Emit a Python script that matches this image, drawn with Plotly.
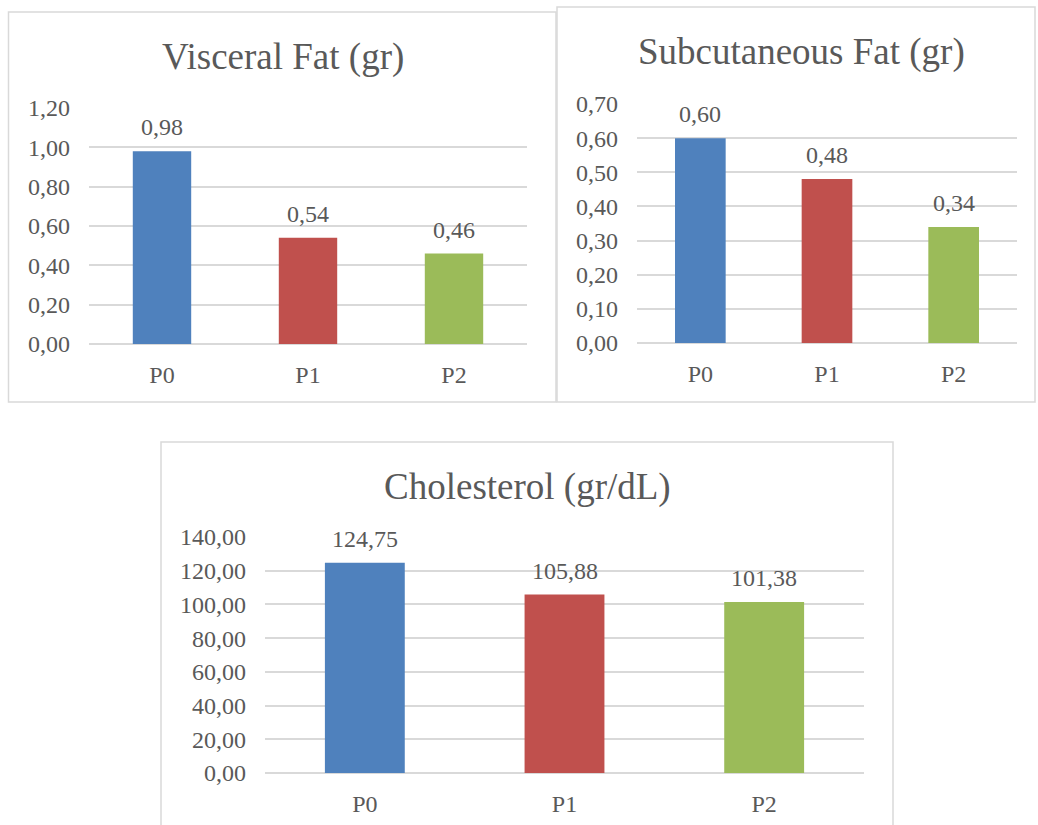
import plotly.graph_objects as go

W, H = 1038, 825

categories = ["P0", "P1", "P2"]
visceral = [0.98, 0.54, 0.46]
subcutaneous = [0.60, 0.48, 0.34]
cholesterol = [124.75, 105.88, 101.38]
colors = ["#4F81BD", "#C0504D", "#9BBB59"]

titles = ["Visceral Fat (gr)", "Subcutaneous Fat (gr)", "Cholesterol (gr/dL)"]
series = [visceral, subcutaneous, cholesterol]
yranges = [[0, 1.2], [0, 0.7], [0, 140]]
dticks = [0.2, 0.1, 20]

FONT = "Liberation Serif, 'Times New Roman', 'DejaVu Serif', serif"
TXT = "#595959"
GRID = "#D9D9D9"

def px(x):
    return x / W

def py(y):
    return 1 - y / H

# plot areas in pixel coords: (x0, x1, ytop, ybottom)
areas = [(89, 527, 108, 344), (637, 1017, 104, 343), (265, 864, 537, 773)]
boxes = [(8.5, 556, 12, 402), (557, 1035, 7, 402), (161, 893, 442, 830)]
title_pos = [(283, 57), (801, 52), (527, 487)]

fig = go.Figure()
layout = dict(
    width=W, height=H, margin=dict(l=0, r=0, t=0, b=0, pad=0, autoexpand=False),
    paper_bgcolor="white", plot_bgcolor="white",
    showlegend=False, separators=",.", bargap=0.6,
    font=dict(family=FONT, color=TXT, size=24),
)
shapes = []
annotations = []
for i in range(3):
    n = "" if i == 0 else str(i + 1)
    fig.add_trace(go.Bar(
        x=categories, y=series[i], marker=dict(color=colors, line=dict(width=0)),
        xaxis="x" + n, yaxis="y" + n, hoverinfo="skip",
    ))
    x0, x1, yt, yb = areas[i]
    layout["xaxis" + n] = dict(
        domain=[px(x0), px(x1)], anchor="y" + n, showgrid=False, zeroline=False,
        showline=False, ticks="", ticklabelstandoff=14, automargin=False,
        tickfont=dict(family=FONT, color=TXT, size=24), fixedrange=True,
    )
    layout["yaxis" + n] = dict(
        domain=[py(yb), py(yt)], anchor="x" + n, range=yranges[i], dtick=dticks[i],
        tick0=0, tickformat=".2f", showgrid=True, gridcolor=GRID, gridwidth=1.5,
        zeroline=True, zerolinecolor=GRID, zerolinewidth=1.5, showline=False,
        ticks="", ticklabelstandoff=18, automargin=False,
        tickfont=dict(family=FONT, color=TXT, size=24), fixedrange=True,
    )
    for c, v in zip(categories, series[i]):
        annotations.append(dict(
            x=c, y=v, xref="x" + n, yref="y" + n, text=f"{v:.2f}".replace(".", ","),
            showarrow=False, yanchor="middle", yshift=24,
            font=dict(family=FONT, color=TXT, size=24),
        ))
    bx0, bx1, by0, by1 = boxes[i]
    shapes.append(dict(
        type="rect", xref="paper", yref="paper",
        x0=px(bx0), x1=px(bx1), y0=py(by1), y1=py(by0),
        line=dict(color=GRID, width=1.5), fillcolor="rgba(0,0,0,0)", layer="below",
    ))
    tx, ty = title_pos[i]
    annotations.append(dict(
        x=px(tx), y=py(ty), xref="paper", yref="paper", text=titles[i],
        showarrow=False, xanchor="center", yanchor="middle",
        font=dict(family=FONT, color=TXT, size=37),
    ))

layout["shapes"] = shapes
layout["annotations"] = annotations
fig.update_layout(**layout)

fig.write_html("out.html", config={"displayModeBar": False},
               post_script="document.body.style.margin='0';")
